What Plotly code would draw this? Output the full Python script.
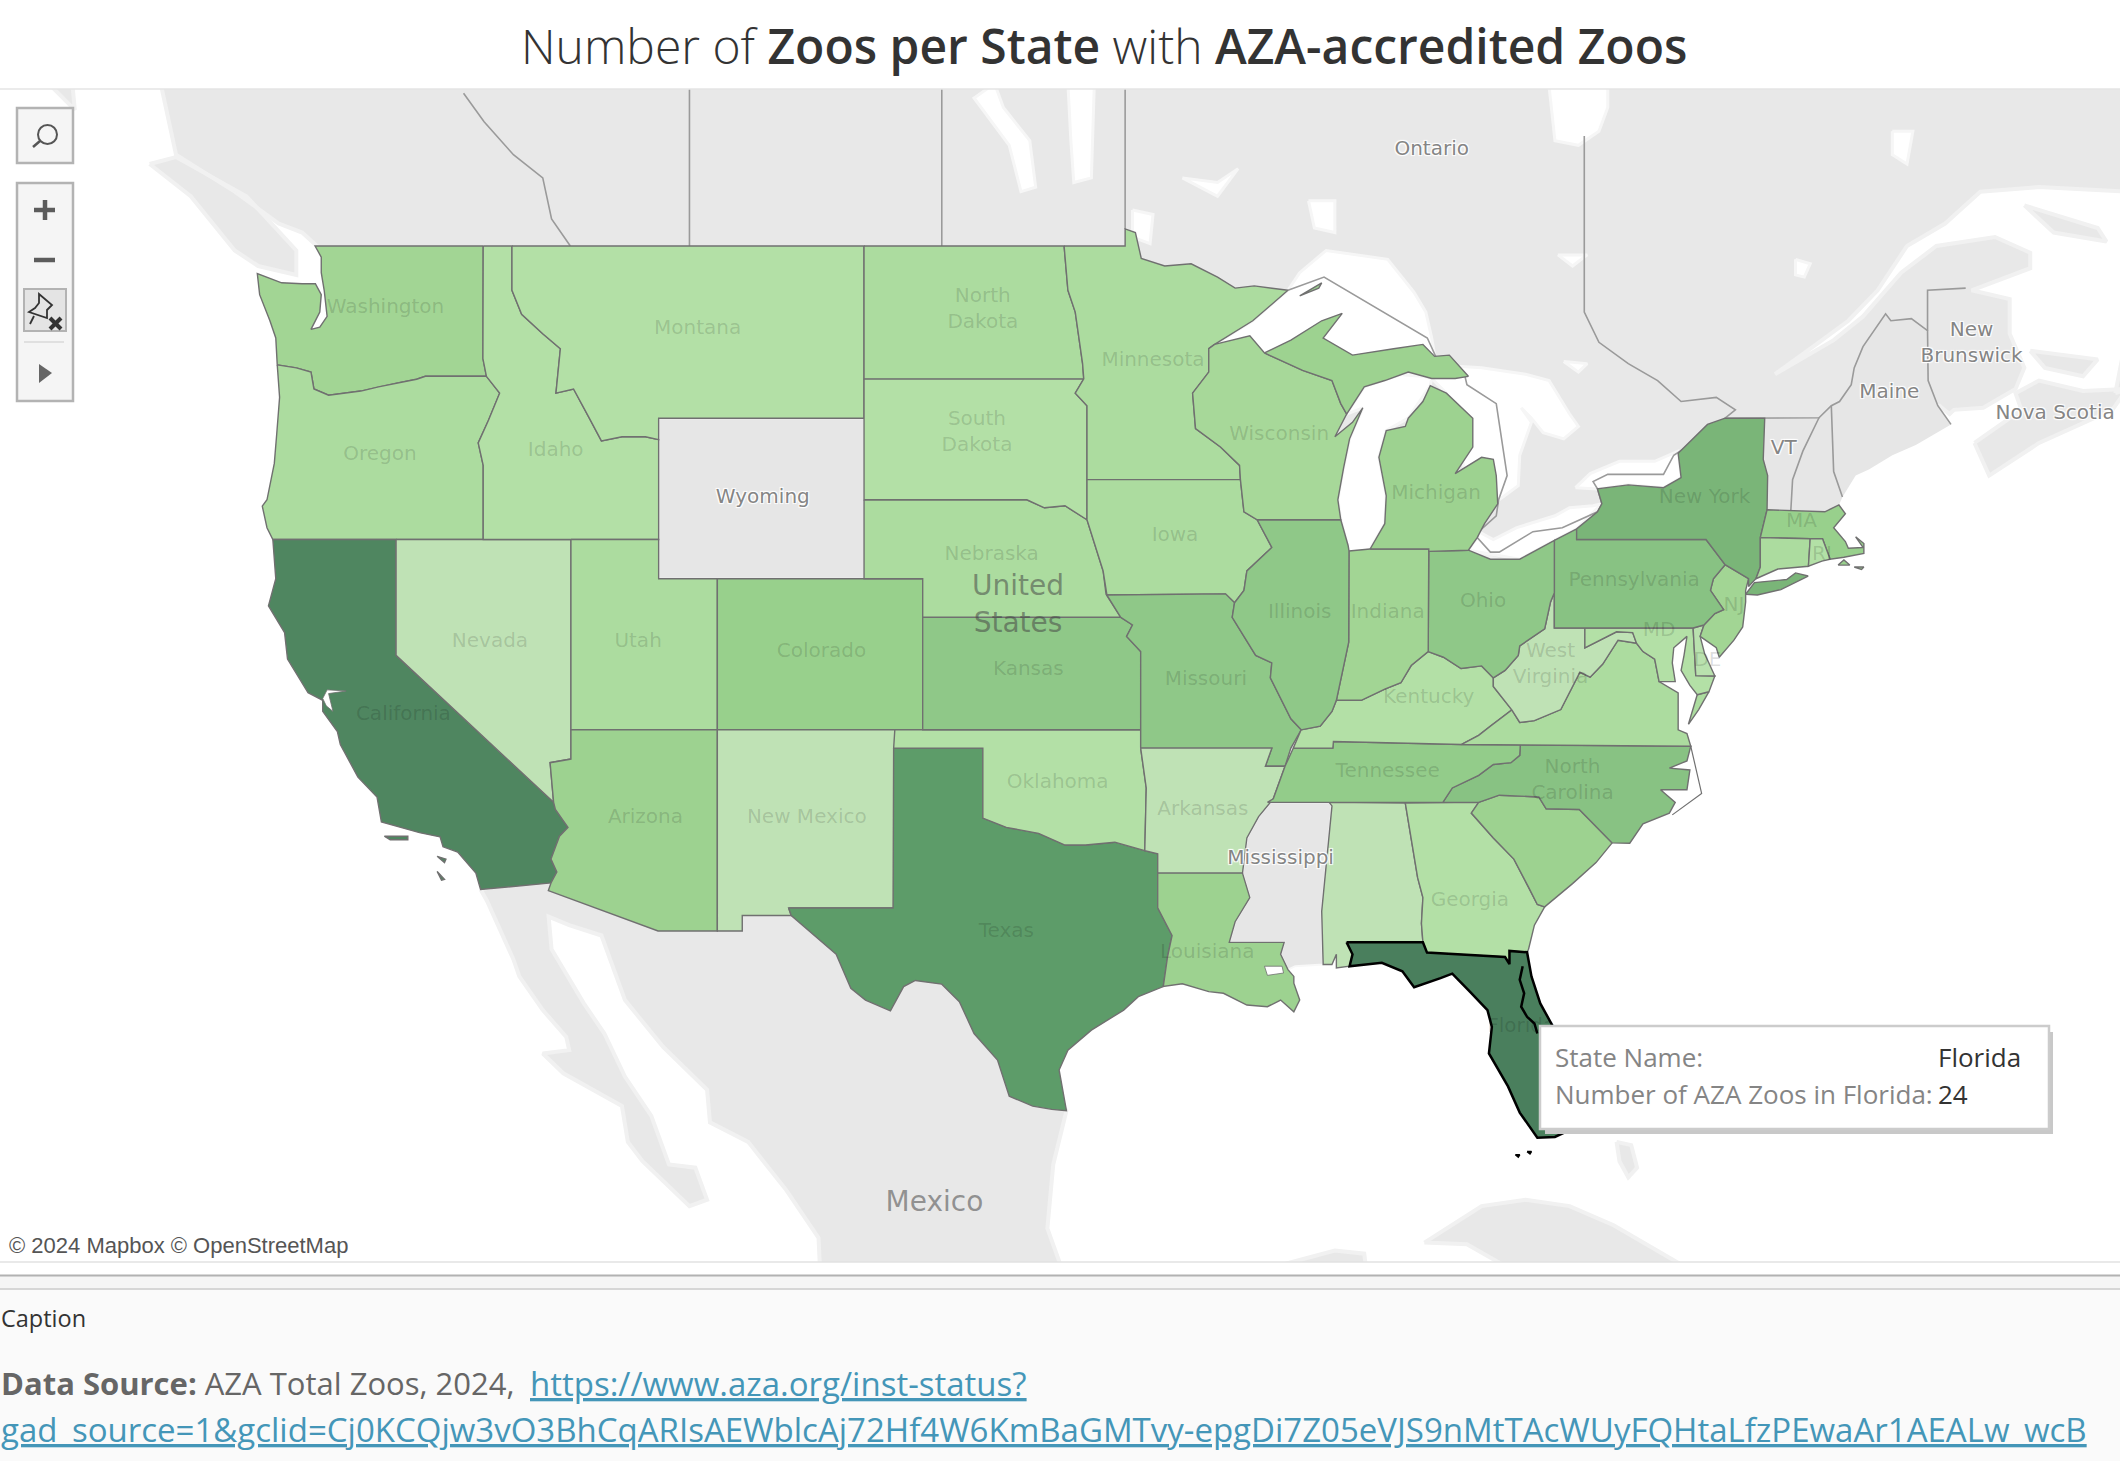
import numpy as np
import plotly.graph_objects as go
from plotly.colors import sample_colorscale

# number of AZA zoos per state (read from the shading); None = no data, grey
state_names = ['Washington', 'Oregon', 'California', 'Nevada', 'Idaho', 'Montana', 'Wyoming', 'Utah', 'Colorado',
               'Arizona', 'New Mexico', 'Texas', 'Oklahoma', 'Kansas', 'Nebraska', 'South Dakota', 'North Dakota',
               'Minnesota', 'Iowa', 'Missouri', 'Arkansas', 'Louisiana', 'Mississippi', 'Alabama', 'Georgia',
               'South Carolina', 'North Carolina', 'Tennessee', 'Kentucky', 'Virginia', 'West Virginia', 'Maryland',
               'Delaware', 'New Jersey', 'Pennsylvania', 'New York', 'Vermont', 'New Hampshire', 'Maine',
               'Massachusetts', 'Connecticut', 'Rhode Island', 'Ohio', 'Indiana', 'Illinois', 'Wisconsin', 'Michigan']
zoo_counts = [6, 4, 23, 1, 3, 3, None, 4, 8,
              7, 1, 20, 3, 10, 4, 3, 4,
              4, 4, 10, 1, 7, None, 1, 3,
              7, 11, 9, 3, 4, 1, 3,
              2, 6, 11, 13, None, None, None,
              8, 4, 3, 10, 6, 10, 5, 7]

colorscale = [[0, '#bfe2b5'], [0.087, '#b3e0a6'], [0.13, '#acdc9f'], [0.217, '#a2d594'], [0.304, '#98d08c'],
              [0.391, '#8fc888'], [0.522, '#7ab578'], [0.826, '#5d9c69'], [1, '#4a7f5d']]

# state outlines as (lon, lat)
WA = [(-117.03, 49), (-122.76, 49), (-122.55, 48.75), (-122.55, 48.4), (-122.45, 48), (-122.35, 47.4), (-122.6, 47.15),
      (-122.9, 47.1), (-122.6, 47.5), (-122.55, 47.9), (-122.75, 48.15), (-123.2, 48.15), (-123.9, 48.17),
      (-124.73, 48.38), (-124.65, 47.9), (-124.3, 47.3), (-124.1, 46.9), (-124.05, 46.27), (-123.4, 46.2),
      (-122.9, 46.1), (-122.8, 45.7), (-122.3, 45.55), (-121.2, 45.65), (-120.6, 45.75), (-119.9, 45.85),
      (-119.3, 45.93), (-119, 46), (-116.92, 46), (-117.04, 46.42)]
OR = [(-124.05, 46.27), (-123.4, 46.2), (-122.9, 46.1), (-122.8, 45.7), (-122.3, 45.55), (-121.2, 45.65),
      (-120.6, 45.75), (-119.9, 45.85), (-119.3, 45.93), (-119, 46), (-116.92, 46), (-116.47, 45.6), (-116.85, 44.95),
      (-117.2, 44.4), (-117.03, 43.85), (-117.03, 42), (-124.2, 42), (-124.4, 42.3), (-124.56, 42.84), (-124.4, 43),
      (-124.15, 43.9), (-124.07, 44.6), (-123.97, 45.5)]
CA = [(-124.2, 42), (-120, 42), (-120, 39), (-114.63, 35), (-114.57, 34.8), (-114.14, 34.3), (-114.43, 34.05),
      (-114.72, 33.4), (-114.52, 33.03), (-114.72, 32.72), (-117.12, 32.53), (-117.28, 33), (-117.9, 33.6),
      (-118.4, 33.75), (-118.5, 34.03), (-119.2, 34.15), (-120.5, 34.45), (-120.65, 35.15), (-121.3, 35.7),
      (-121.9, 36.6), (-122, 36.95), (-122.5, 37.5), (-122.5, 37.8), (-123, 38), (-123.7, 38.9), (-123.8, 39.6),
      (-124.35, 40.3), (-124.1, 41)]
CA_ISLANDS = [[(-120.4, 34.05), (-119.6, 34.05), (-119.6, 33.95), (-120.2, 33.95)],
              [(-118.6, 33.48), (-118.3, 33.4), (-118.35, 33.3)],
              [(-118.6, 33.05), (-118.35, 32.82), (-118.45, 32.8)]]
NV = [(-120, 42), (-114.04, 42), (-114.04, 36.2), (-114.75, 36.1), (-114.63, 35), (-120, 39)]
ID = [(-117.03, 49), (-116.05, 49), (-116.05, 48), (-115.72, 47.45), (-115, 47), (-114.4, 46.65), (-114.55, 45.6),
      (-113.95, 45.7), (-113.45, 45.05), (-113, 44.45), (-112.3, 44.55), (-111.5, 44.55), (-111.05, 44.48),
      (-111.05, 42), (-117.03, 42), (-117.03, 43.85), (-117.2, 44.4), (-116.85, 44.95), (-116.47, 45.6),
      (-116.92, 46), (-117.04, 46.42)]
MT = [(-116.05, 49), (-104.05, 49), (-104.05, 45), (-111.05, 45), (-111.05, 44.48), (-111.5, 44.55), (-112.3, 44.55),
      (-113, 44.45), (-113.45, 45.05), (-113.95, 45.7), (-114.55, 45.6), (-114.4, 46.65), (-115, 47),
      (-115.72, 47.45), (-116.05, 48)]
WY = [(-111.05, 45), (-104.05, 45), (-104.05, 41), (-111.05, 41)]
UT = [(-114.04, 42), (-111.05, 42), (-111.05, 41), (-109.05, 41), (-109.05, 37), (-114.04, 37)]
CO = [(-109.05, 41), (-102.05, 41), (-102.05, 37), (-109.05, 37)]
AZ = [(-114.04, 37), (-109.05, 37), (-109.05, 31.33), (-111.07, 31.33), (-114.81, 32.5), (-114.72, 32.72),
      (-114.52, 33.03), (-114.72, 33.4), (-114.43, 34.05), (-114.14, 34.3), (-114.57, 34.8), (-114.63, 35),
      (-114.75, 36.1), (-114.04, 36.2)]
NM = [(-109.05, 37), (-103, 37), (-103.04, 32), (-106.62, 32), (-106.53, 31.78), (-108.2, 31.78), (-108.2, 31.33),
      (-109.05, 31.33)]
TX = [(-106.62, 32), (-103.06, 32), (-103.04, 36.5), (-100, 36.5), (-100, 34.56), (-99.2, 34.3), (-98.1, 34.13),
      (-97.2, 33.8), (-96.5, 33.8), (-95.5, 33.88), (-94.48, 33.64), (-94.04, 33.55), (-94.04, 32), (-93.55, 31.2),
      (-93.7, 30.6), (-93.85, 29.7), (-94.7, 29.4), (-95.2, 29), (-96.3, 28.4), (-97.1, 27.8), (-97.4, 27.2),
      (-97.15, 25.96), (-97.65, 26), (-98.3, 26.1), (-99.1, 26.4), (-99.5, 27.5), (-100.3, 28.3), (-100.8, 29.25),
      (-101.4, 29.77), (-102.3, 29.88), (-102.7, 29.7), (-103.15, 28.98), (-104, 29.3), (-104.5, 29.65), (-105, 30.65),
      (-106, 31.4), (-106.53, 31.78)]
OK = [(-103, 37), (-94.62, 37), (-94.62, 36.5), (-94.43, 35.4), (-94.48, 33.64), (-95.5, 33.88), (-96.5, 33.8),
      (-97.2, 33.8), (-98.1, 34.13), (-99.2, 34.3), (-100, 34.56), (-100, 36.5), (-103.04, 36.5)]
KS = [(-102.05, 40), (-95.3, 40), (-94.9, 39.8), (-95.1, 39.5), (-94.62, 39.1), (-94.62, 37), (-102.05, 37)]
NE = [(-104.05, 43), (-98.5, 43), (-97.9, 42.8), (-97.2, 42.85), (-96.45, 42.5), (-96.1, 41.7), (-95.9, 41.2),
      (-95.8, 40.6), (-95.3, 40), (-102.05, 40), (-102.05, 41), (-104.05, 41)]
SD = [(-104.05, 45.94), (-96.56, 45.94), (-96.85, 45.6), (-96.45, 45.3), (-96.45, 42.5), (-97.2, 42.85), (-97.9, 42.8),
      (-98.5, 43), (-104.05, 43)]
ND = [(-104.05, 49), (-97.23, 49), (-97.1, 48), (-96.85, 47.5), (-96.6, 46.3), (-96.56, 45.94), (-104.05, 45.94)]
MN = [(-97.23, 49), (-95.15, 49), (-95.15, 49.38), (-94.8, 49.3), (-94.6, 48.72), (-93.8, 48.55), (-92.9, 48.6),
      (-92, 48.3), (-91.4, 48.05), (-90.75, 48.1), (-89.6, 48), (-90.8, 47.3), (-92.1, 46.75), (-92.3, 46.65),
      (-92.3, 46.1), (-92.85, 45.6), (-92.75, 44.75), (-91.9, 44.3), (-91.25, 43.85), (-91.22, 43.5), (-96.45, 43.5),
      (-96.45, 45.3), (-96.85, 45.6), (-96.56, 45.94), (-96.6, 46.3), (-96.85, 47.5), (-97.1, 48)]
IA = [(-96.45, 43.5), (-91.22, 43.5), (-91.1, 42.7), (-90.65, 42.5), (-90.15, 41.8), (-91, 41.2), (-91.1, 40.7),
      (-91.42, 40.38), (-91.73, 40.61), (-95.77, 40.58), (-95.9, 41.2), (-96.1, 41.7), (-96.45, 42.5)]
MO = [(-95.77, 40.58), (-91.73, 40.61), (-91.42, 40.38), (-91.5, 40), (-90.7, 39), (-90.15, 38.8), (-90.2, 38.4),
      (-89.5, 37.3), (-89.15, 37), (-89.5, 36.5), (-89.7, 36), (-90.37, 36), (-90.15, 36.5), (-94.62, 36.5),
      (-94.62, 37), (-94.62, 39.1), (-95.1, 39.5), (-94.9, 39.8), (-95.3, 40)]
AR = [(-94.62, 36.5), (-90.15, 36.5), (-90.37, 36), (-89.7, 36), (-90.1, 35.1), (-90.6, 34.6), (-91, 34),
      (-91.15, 33), (-94.04, 33), (-94.04, 33.55), (-94.48, 33.64), (-94.43, 35.4)]
LA = [(-94.04, 33), (-91.15, 33), (-90.9, 32.3), (-91.4, 31.6), (-91.6, 31), (-89.73, 31), (-89.85, 30.65),
      (-89.6, 30.2), (-89.4, 30), (-89.4, 29.8), (-89.2, 29.3), (-89.4, 28.95), (-89.85, 29.3), (-90.3, 29.1),
      (-91, 29.15), (-91.8, 29.5), (-92.3, 29.55), (-93.2, 29.78), (-93.85, 29.7), (-93.7, 30.6), (-93.55, 31.2),
      (-94.04, 32)]
MS = [(-90.3, 35), (-88.2, 35), (-88.1, 34.9), (-88.45, 31.9), (-88.4, 30.35), (-89.35, 30.3), (-89.6, 30.2),
      (-89.85, 30.65), (-89.73, 31), (-91.6, 31), (-91.4, 31.6), (-90.9, 32.3), (-91.15, 33), (-91, 34), (-90.6, 34.6),
      (-90.1, 35.1)]
AL = [(-88.2, 35), (-85.6, 34.98), (-85.18, 32.87), (-85, 32.3), (-85.05, 31.55), (-85, 31), (-87.6, 31),
      (-87.4, 30.65), (-87.5, 30.3), (-87.95, 30.25), (-87.95, 30.65), (-88.1, 30.35), (-88.4, 30.35), (-88.45, 31.9),
      (-88.1, 34.9)]
GA = [(-85.6, 34.98), (-83.1, 35), (-83.35, 34.7), (-82.6, 34), (-81.9, 33.4), (-81.4, 32.6), (-81.1, 32.1),
      (-80.85, 32.03), (-81.2, 31.5), (-81.4, 30.8), (-81.45, 30.71), (-82.05, 30.75), (-82.05, 30.36), (-82.2, 30.57),
      (-84.86, 30.7), (-85, 31), (-85.05, 31.55), (-85, 32.3), (-85.18, 32.87)]
FL = [(-87.6, 31), (-85, 31), (-84.86, 30.7), (-82.2, 30.57), (-82.05, 30.36), (-82.05, 30.75), (-81.45, 30.71),
      (-81.3, 30), (-81, 29.2), (-80.5, 28.4), (-80.05, 26.9), (-80.1, 25.8), (-80.15, 25.3), (-80.5, 25.15), (-81.1, 25.13),
      (-81.7, 25.9), (-82.1, 26.7), (-82.75, 27.7), (-82.65, 28.5), (-82.8, 29), (-83.4, 29.55), (-84, 30.08),
      (-84.4, 29.95), (-85.3, 29.68), (-85.7, 30.15), (-86.4, 30.4), (-87.5, 30.3), (-87.4, 30.65)]
FL_KEYS = [[(-81.85, 24.6), (-81.7, 24.6), (-81.75, 24.53)], [(-81.45, 24.7), (-81.3, 24.7), (-81.35, 24.63)]]
FL_RIVER = [(-81.6, 30.3), (-81.7, 29.9), (-81.55, 29.5), (-81.65, 29.1), (-81.45, 28.8), (-81.2, 28.6), (-81.1, 28.3)]
SC = [(-83.1, 35), (-82.4, 35.2), (-81.05, 35.15), (-80.8, 34.82), (-79.67, 34.8), (-78.55, 33.86), (-79.1, 33.3),
      (-79.9, 32.7), (-80.85, 32.03), (-81.1, 32.1), (-81.4, 32.6), (-81.9, 33.4), (-82.6, 34), (-83.35, 34.7)]
NC = [(-84.32, 35), (-83.1, 35), (-82.4, 35.2), (-81.05, 35.15), (-80.8, 34.82), (-79.67, 34.8), (-78.55, 33.86),
      (-77.95, 33.85), (-77.5, 34.4), (-76.6, 34.7), (-76.4, 35), (-76.9, 35.35), (-76, 35.35), (-75.9, 35.9),
      (-76.6, 35.95), (-76, 36.15), (-75.87, 36.55), (-81.68, 36.59), (-81.7, 36.3), (-82, 36.1), (-82.6, 36.05),
      (-83.1, 35.75), (-84, 35.4)]
OUTER_BANKS = [(-75.87, 36.55), (-75.5, 35.25), (-76.5, 34.65)]
TN = [(-90.3, 35), (-84.32, 35), (-84, 35.4), (-83.1, 35.75), (-82.6, 36.05), (-82, 36.1), (-81.7, 36.3),
      (-81.68, 36.59), (-83.68, 36.6), (-86.5, 36.65), (-88.05, 36.68), (-88.07, 36.5), (-89.42, 36.5), (-89.7, 36),
      (-90.1, 35.1)]
KY = [(-89.42, 36.5), (-88.07, 36.5), (-88.05, 36.68), (-86.5, 36.65), (-83.68, 36.6), (-83.1, 36.85), (-82.7, 37.1),
      (-81.97, 37.54), (-82.6, 38.17), (-82.6, 38.4), (-83, 38.72), (-83.7, 38.65), (-84.3, 38.95), (-84.82, 39.1),
      (-85.4, 38.73), (-85.75, 38.27), (-86.3, 38.1), (-87.1, 37.8), (-87.95, 37.8), (-88.1, 37.5), (-88.5, 37.1),
      (-89.15, 37)]
VA = [(-83.68, 36.6), (-81.68, 36.59), (-75.87, 36.55), (-76, 36.9), (-76.3, 37), (-76.3, 37.6), (-76.3, 38),
      (-76.95, 38.3), (-77.05, 38.7), (-77.1, 38.9), (-77.5, 39.1), (-77.72, 39.32), (-78.35, 39.4), (-78.87, 38.77),
      (-79.3, 38.42), (-79.65, 38.55), (-80.3, 37.55), (-81.2, 37.25), (-81.7, 37.2), (-81.97, 37.54), (-82.7, 37.1),
      (-83.1, 36.85)]
VA_SHORE = [(-75.95, 37.15), (-75.65, 37.95), (-75.25, 38.03), (-75.6, 37.55)]
WV = [(-81.97, 37.54), (-82.6, 38.17), (-82.6, 38.4), (-82.2, 38.6), (-81.75, 39), (-81.7, 39.25), (-80.85, 39.7),
      (-80.65, 40.4), (-80.52, 40.64), (-80.52, 39.72), (-79.48, 39.72), (-79.48, 39.2), (-78.4, 39.62), (-77.85, 39.6),
      (-77.72, 39.32), (-78.35, 39.4), (-78.87, 38.77), (-79.3, 38.42), (-79.65, 38.55), (-80.3, 37.55), (-81.2, 37.25),
      (-81.7, 37.2)]
MD = [(-79.48, 39.72), (-75.79, 39.72), (-75.7, 38.46), (-75.05, 38.45), (-75.25, 38.03), (-75.65, 37.95), (-75.9, 38.2),
      (-76.2, 38.6), (-76.1, 39), (-76, 39.5), (-76.45, 39.2), (-76.5, 38.8), (-76.4, 38.3), (-76.95, 38.3),
      (-77.05, 38.7), (-77.1, 38.9), (-77.5, 39.1), (-77.72, 39.32), (-77.85, 39.6), (-78.4, 39.62), (-79.48, 39.2)]
DE = [(-75.79, 39.72), (-75.42, 39.8), (-75.55, 39.5), (-75.4, 39.05), (-75.05, 38.45), (-75.7, 38.46)]
NJ = [(-74.7, 41.36), (-73.9, 41), (-74, 40.7), (-74, 40.4), (-74.1, 39.75), (-74.4, 39.4), (-74.9, 38.95), (-75, 39.2),
      (-75.55, 39.5), (-75.42, 39.8), (-75.05, 40.1), (-74.75, 40.2), (-75.2, 40.7), (-75.1, 41)]
PA = [(-80.52, 41.98), (-79.76, 42.27), (-79.76, 42), (-75.35, 42), (-74.7, 41.36), (-75.1, 41), (-75.2, 40.7),
      (-74.75, 40.2), (-75.05, 40.1), (-75.42, 39.8), (-75.79, 39.72), (-80.52, 39.72), (-80.52, 40.64)]
NY = [(-79.76, 42.27), (-79.05, 42.7), (-78.9, 42.9), (-79.05, 43.27), (-78, 43.37), (-76.8, 43.3), (-76.2, 43.55),
      (-76.3, 44.15), (-75.3, 44.85), (-74.7, 45), (-73.35, 45), (-73.4, 44), (-73.25, 43.6), (-73.27, 42.75),
      (-73.5, 42.05), (-73.5, 41.3), (-73.65, 41), (-73.9, 40.8), (-73.9, 41), (-74.7, 41.36), (-75.35, 42),
      (-79.76, 42)]
LONG_ISLAND = [(-74, 40.6), (-73.7, 40.9), (-72.6, 40.98), (-72.3, 41.15), (-71.87, 41.07), (-72.8, 40.72), (-73.6, 40.58)]
VT = [(-73.35, 45), (-71.5, 45.01), (-72.05, 44.2), (-72.4, 43.5), (-72.46, 42.73), (-73.27, 42.75), (-73.25, 43.6),
      (-73.4, 44)]
NH = [(-71.5, 45.01), (-71.08, 45.3), (-71, 43.7), (-70.7, 43.07), (-70.82, 42.87), (-71.3, 42.7), (-72.46, 42.73),
      (-72.4, 43.5), (-72.05, 44.2)]
ME = [(-71.08, 45.3), (-70.8, 45.4), (-70.4, 45.8), (-70.3, 46.2), (-70, 46.7), (-69.23, 47.46), (-69.05, 47.3),
      (-68.35, 47.35), (-67.8, 47.07), (-67.78, 45.9), (-67.45, 45.3), (-67, 44.85), (-68.2, 44.35), (-69, 44.1),
      (-69.8, 43.75), (-70.25, 43.6), (-70.7, 43.07), (-71, 43.7)]
MA = [(-73.5, 42.05), (-73.27, 42.75), (-71.3, 42.7), (-70.82, 42.87), (-70.6, 42.65), (-71, 42.3), (-70.6, 41.95),
      (-70.5, 41.78), (-70, 41.8), (-70.25, 42.07), (-69.97, 41.9), (-69.97, 41.65), (-70.65, 41.55), (-71.12, 41.5),
      (-71.38, 42.02), (-71.8, 42.02)]
MA_ISLANDS = [[(-70.85, 41.35), (-70.45, 41.35), (-70.65, 41.48)], [(-70.3, 41.3), (-69.97, 41.3), (-70.05, 41.24)]]
CT = [(-73.5, 42.05), (-71.8, 42.02), (-71.86, 41.32), (-72.9, 41.25), (-73.65, 41), (-73.5, 41.3)]
RI = [(-71.8, 42.02), (-71.38, 42.02), (-71.12, 41.5), (-71.4, 41.45), (-71.86, 41.32)]
OH = [(-84.8, 41.7), (-83.45, 41.73), (-82.7, 41.5), (-81.7, 41.5), (-80.52, 41.98), (-80.52, 40.64), (-80.65, 40.4),
      (-80.85, 39.7), (-81.7, 39.25), (-81.75, 39), (-82.2, 38.6), (-82.6, 38.4), (-83, 38.72), (-83.7, 38.65),
      (-84.3, 38.95), (-84.82, 39.1)]
IN = [(-87.52, 41.71), (-86.8, 41.76), (-84.8, 41.76), (-84.82, 39.1), (-85.4, 38.73), (-85.75, 38.27), (-86.3, 38.1),
      (-87.1, 37.8), (-87.95, 37.8), (-87.53, 39.35)]
IL = [(-90.65, 42.5), (-87.8, 42.5), (-87.55, 41.85), (-87.52, 41.71), (-87.53, 39.35), (-87.95, 37.8), (-88.1, 37.5),
      (-88.5, 37.1), (-89.15, 37), (-89.5, 37.3), (-90.2, 38.4), (-90.15, 38.8), (-90.7, 39), (-91.5, 40),
      (-91.42, 40.38), (-91.1, 40.7), (-91, 41.2), (-90.15, 41.8)]
WI = [(-92.1, 46.75), (-90.9, 46.95), (-90.4, 46.55), (-89.1, 46.14), (-88.1, 45.9), (-87.8, 45.35), (-87.6, 45.1),
      (-88, 44.55), (-87.4, 44.9), (-87.05, 45.25), (-87.5, 44.5), (-87.7, 43.8), (-87.9, 43), (-87.8, 42.5),
      (-90.65, 42.5), (-91.1, 42.7), (-91.22, 43.5), (-91.25, 43.85), (-91.9, 44.3), (-92.75, 44.75), (-92.85, 45.6),
      (-92.3, 46.1), (-92.3, 46.65)]
MI_LOWER = [(-86.8, 41.76), (-84.8, 41.76), (-84.8, 41.7), (-83.45, 41.73), (-83.15, 42.05), (-82.9, 42.4),
            (-82.45, 42.9), (-82.5, 43.6), (-82.6, 44), (-83, 44.05), (-83.9, 43.65), (-83.3, 44.3), (-83.3, 45),
            (-84.2, 45.6), (-84.75, 45.78), (-85, 45.4), (-85.5, 45), (-85.6, 44.8), (-86.25, 44.7), (-86.5, 44.05),
            (-86.25, 43.1), (-86.3, 42.4)]
MI_UPPER = [(-90.4, 46.55), (-89.5, 46.85), (-88.45, 47.3), (-87.75, 47.47), (-88.4, 46.9), (-87.4, 46.5), (-86, 46.65),
            (-85, 46.75), (-84.6, 46.47), (-84.1, 46.5), (-83.45, 46), (-83.9, 45.95), (-84.7, 45.95), (-85.5, 46.1),
            (-86.3, 45.9), (-87, 45.75), (-87.6, 45.1), (-87.8, 45.35), (-88.1, 45.9), (-89.1, 46.14)]
ISLE_ROYALE = [(-89.2, 47.87), (-88.45, 48.17), (-88.55, 48.05)]

state_parts = [[WA], [OR], [CA] + CA_ISLANDS, [NV], [ID], [MT], [WY], [UT], [CO],
               [AZ], [NM], [TX], [OK], [KS], [NE], [SD], [ND],
               [MN], [IA], [MO], [AR], [LA], [MS], [AL], [GA],
               [SC], [NC], [TN], [KY], [VA, VA_SHORE], [WV], [MD],
               [DE], [NJ], [PA], [NY, LONG_ISLAND], [VT], [NH], [ME],
               [MA] + MA_ISLANDS, [CT], [RI], [OH], [IN], [IL], [WI], [MI_LOWER, MI_UPPER, ISLE_ROYALE]]

# basemap land and water
CANADA = [(-128.2, 53), (-127.5, 51), (-125.5, 50.2), (-124, 49.5), (-123.2, 49.3), (-122.7, 49), (-118, 46), (-100, 44),
          (-85, 42), (-80, 41), (-75, 42.5), (-71.5, 43.8), (-69, 45), (-67.4, 45.3), (-67.05, 45.1), (-66.9, 45.2),
          (-65.9, 45.25), (-64.8, 45.7), (-64.5, 46.2), (-65, 47), (-65, 47.8), (-66.3, 48), (-64.3, 48.5), (-64.3, 48.85),
          (-65.5, 49.2), (-67.5, 49), (-68.7, 48.4), (-70, 47.4), (-71, 46.85), (-73, 46.05), (-71.5, 46.8), (-70.5, 47.3),
          (-69.5, 48), (-68.5, 49), (-67.2, 49.5), (-66, 50.2), (-64, 50.3), (-61, 50.2), (-58, 50.5), (-58, 53)]
VANCOUVER_ISLAND = [(-128.4, 50.8), (-127, 50.1), (-125.5, 48.9), (-124.7, 48.55), (-123.4, 48.35), (-123.4, 48.9),
                    (-125.1, 50.1), (-127.5, 50.95)]
HAIDA_GWAII = [(-132, 52.6), (-131.05, 52.6), (-130.95, 51.95)]
NOVA_SCOTIA = [(-66.2, 44.4), (-65.7, 43.6), (-64, 44.4), (-61.5, 45.2), (-61, 45.7), (-62.5, 45.65), (-64, 45.9),
               (-64.8, 45.6), (-64.6, 45.2)]
CAPE_BRETON = [(-61.4, 45.6), (-60, 45.9), (-60.4, 46.9), (-61, 47)]
PEI = [(-64.3, 46.6), (-62, 46.4), (-62.5, 46), (-63.8, 46.2)]
ANTICOSTI = [(-64.5, 49.9), (-62, 49.4), (-61.7, 49.1), (-63.5, 49.3)]
MEXICO = [(-117.12, 32.53), (-116.9, 32.2), (-116, 30.5), (-115.8, 30), (-115, 29), (-114.2, 28.2), (-114.1, 27.8),
          (-115, 27.7), (-114.3, 27.1), (-113.5, 26.7), (-112.3, 26.1), (-112.1, 25), (-111.6, 24.4), (-110, 23),
          (-109.4, 23.2), (-109.8, 24.2), (-110.7, 24.3), (-111.3, 25.8), (-112.2, 27), (-112.9, 28.3), (-113.6, 29.2),
          (-114.7, 30.8), (-114.8, 31.75), (-114.1, 31.5), (-113, 31.2), (-112.2, 29.3), (-110.9, 27.9), (-109.4, 26.6),
          (-109.3, 25.6), (-108, 25), (-106.7, 23.5), (-105.6, 22), (-105.5, 20), (-97, 20), (-97.3, 21), (-97.8, 22.3),
          (-97.6, 24.3), (-97.15, 25.96), (-98, 27), (-100, 30), (-104, 31.5), (-106.5, 32.3), (-108.2, 32.3),
          (-111.07, 32.3), (-114.5, 33)]
YUCATAN = [(-90.4, 21), (-88, 21.6), (-87, 21.5), (-86.8, 20), (-90.4, 20)]
CUBA = [(-84.95, 21.85), (-84, 22.4), (-83, 23), (-81.5, 23.2), (-80, 23), (-78.5, 22.4), (-77, 21.6), (-75, 20.5),
        (-80, 20.5), (-82, 21), (-83.5, 21.8)]
ANDROS = [(-78.4, 25), (-77.9, 24.9), (-77.7, 24.2), (-78, 23.9), (-78.3, 24.4)]
GRAND_BAHAMA = [(-79, 26.7), (-78, 26.75), (-77.2, 26.6), (-78.2, 26.5)]
ABACO = [(-77.5, 26.9), (-77, 26.5), (-77.2, 25.9), (-77.35, 26.4)]
land_parts = [CANADA, VANCOUVER_ISLAND, HAIDA_GWAII, NOVA_SCOTIA, CAPE_BRETON, PEI, ANTICOSTI, MEXICO, YUCATAN, CUBA,
              ANDROS, GRAND_BAHAMA, ABACO]

SUPERIOR = [(-92.1, 46.75), (-90.8, 47.3), (-89.6, 48), (-89.2, 48.4), (-88.3, 48.9), (-87.3, 48.8), (-86.2, 48.7),
            (-85.3, 47.95), (-84.9, 47.5), (-84.7, 46.9), (-84.6, 46.5), (-85, 46), (-90.4, 46.3)]
HURON = [(-84.7, 45.95), (-84.1, 46.25), (-83, 46.2), (-81.5, 46.05), (-80.7, 45.9), (-80, 45.1), (-79.7, 44.8),
         (-80.2, 44.5), (-80.9, 44.65), (-81.3, 45), (-81.65, 45.25), (-81.3, 44.9), (-81.7, 44.1), (-81.75, 43.35),
         (-82.4, 43), (-83.5, 43.5), (-84.2, 45.6)]
MICHIGAN = [(-87.8, 42.5), (-87.9, 43), (-87.7, 43.8), (-87.5, 44.5), (-87.05, 45.25), (-87.6, 45.1), (-87, 45.75),
            (-85.5, 46.1), (-84.7, 45.95), (-84.75, 45.78), (-85.5, 45), (-86.25, 44.7), (-86.5, 44.05), (-86.25, 43.1),
            (-86.3, 42.4), (-86.8, 41.76), (-87.3, 41.62), (-87.52, 41.71)]
ERIE = [(-83.15, 42.05), (-83.1, 42.2), (-82.6, 42), (-81.8, 42.3), (-80.5, 42.6), (-80, 42.8), (-79.2, 42.85),
        (-78.9, 42.9), (-79.76, 42.27), (-80.52, 41.98), (-81.7, 41.5), (-83.45, 41.73)]
ONTARIO = [(-79.8, 43.3), (-79.3, 43.65), (-78.3, 43.95), (-77.1, 43.95), (-76.3, 44.2), (-76.2, 43.55), (-76.8, 43.3),
           (-78, 43.37), (-79.05, 43.27)]
JAMES_BAY = [(-80.8, 53), (-80.5, 51.3), (-79.7, 51.2), (-79, 51.5), (-78.7, 52), (-78.7, 53)]
WINNIPEG = [(-97.1, 52.5), (-96.2, 52.5), (-96.3, 50.5), (-96.9, 50.4), (-97, 51.3)]
MANITOBA = [(-99.6, 52.5), (-99.3, 52), (-98.4, 51.3), (-98.2, 50.3), (-98.7, 50.2), (-99.1, 51.2), (-100.3, 52.2)]
NIPIGON = [(-88.9, 50), (-88, 50), (-88, 49.3), (-88.7, 49.4)]
LAC_SEUL = [(-93.2, 50.5), (-92, 50.4), (-91.3, 50.7), (-92, 50.1)]
WOODS = [(-94.9, 49.8), (-94.2, 49.7), (-94.3, 49.05), (-94.9, 49.2)]
NIPISSING = [(-80.2, 46.35), (-79.4, 46.3), (-79.7, 46.1)]
ST_JEAN = [(-72.3, 48.7), (-71.8, 48.6), (-72, 48.3), (-72.3, 48.35)]
MANICOUAGAN = [(-69, 51.5), (-68.3, 51.5), (-68.5, 50.8), (-69, 51)]
ABITIBI = [(-80.4, 48.8), (-79.4, 48.8), (-79.9, 48.55)]
water_parts = [SUPERIOR, HURON, MICHIGAN, ERIE, ONTARIO, JAMES_BAY, WINNIPEG, MANITOBA, NIPIGON, LAC_SEUL, WOODS,
               NIPISSING, ST_JEAN, MANICOUAGAN, ABITIBI]
# water cut back into the state fill
PONTCHARTRAIN = [(-90.4, 30.3), (-89.8, 30.3), (-89.75, 30.1), (-90.3, 30.03)]
SAN_FRANCISCO_BAY = [(-122.5, 37.85), (-122.35, 38.08), (-121.7, 38.05), (-122.3, 37.98), (-122.15, 37.5), (-122.38, 37.65)]
inland_parts = [PONTCHARTRAIN, SAN_FRANCISCO_BAY]

# grey basemap boundaries
lake_border = [(-89.6, 48), (-88.37, 48.3), (-84.85, 46.9), (-84.55, 46.45), (-84.1, 46.2), (-83.6, 46.1), (-83.5, 45.8),
               (-82.5, 45.35), (-82.13, 43.6), (-82.42, 43), (-82.5, 42.6), (-83.1, 42.2), (-83.15, 42.05), (-82.7, 41.68),
               (-82.4, 41.68), (-81.25, 42.2), (-80.25, 42.3), (-79.05, 42.7), (-78.9, 42.9), (-79.05, 43.27),
               (-79.2, 43.45), (-78.7, 43.63), (-76.8, 43.63), (-76.45, 44.1), (-75.8, 44.4), (-74.7, 45)]
bc_alberta = [(-114.06, 49), (-114.7, 49.6), (-115, 50.5), (-116, 51), (-117, 51.7), (-117.7, 52.3)]
alberta_sask = [(-110, 49), (-110, 53)]
sask_manitoba = [(-101.4, 49), (-101.4, 53)]
manitoba_ontario = [(-95.15, 49.38), (-95.15, 53)]
ontario_quebec = [(-79.5, 51.4), (-79.5, 47.5), (-79, 46.8), (-78, 46.3), (-77, 45.9), (-76.2, 45.4), (-75, 45.5),
                  (-74.35, 45.2), (-74.7, 45)]
quebec_nb = [(-67.8, 47.07), (-67.8, 48), (-66.5, 48.05)]
quebec_vt = [(-74.7, 45), (-71.5, 45.01), (-71.08, 45.3), (-70.8, 45.4), (-70.4, 45.8), (-70.3, 46.2), (-70, 46.7),
             (-69.23, 47.46), (-69.05, 47.3), (-68.35, 47.35), (-67.8, 47.07), (-67.78, 45.9), (-67.45, 45.3), (-67, 44.85)]
vt_nh = [(-71.5, 45.01), (-72.05, 44.2), (-72.4, 43.5), (-72.46, 42.73)]
nh_me = [(-71.08, 45.3), (-71, 43.7), (-70.7, 43.07)]
border_lines = [lake_border, bc_alberta, alberta_sask, sask_manitoba, manitoba_ontario, ontario_quebec, quebec_nb,
                quebec_vt, vt_nh, nh_me]

# map labels: text, lon, lat
state_labels = [('Washington', -120.36, 47.6), ('Montana', -109.72, 47.1), ('North<br>Dakota', -100, 47.55),
                ('Minnesota', -94.2, 46.35), ('Oregon', -120.55, 44.1), ('Idaho', -114.56, 44.2),
                ('South<br>Dakota', -100.2, 44.65), ('Wisconsin', -89.9, 44.6), ('Michigan', -84.55, 43.15),
                ('New York', -75.4, 43.05), ('Pennsylvania', -77.8, 40.95), ('Nebraska', -99.7, 41.6), ('Iowa', -93.45, 42.1),
                ('Illinois', -89.2, 40.1), ('Indiana', -86.2, 40.1), ('Ohio', -82.95, 40.4), ('Nevada', -116.8, 39.35),
                ('Utah', -111.75, 39.35), ('Colorado', -105.5, 39.1), ('Kansas', -98.45, 38.6), ('Missouri', -92.4, 38.35),
                ('West<br>Virginia', -80.65, 38.75), ('Kentucky', -84.8, 37.85), ('California', -119.75, 37.4),
                ('Tennessee', -86.2, 35.85), ('Oklahoma', -97.45, 35.55), ('North<br>Carolina', -79.9, 35.6),
                ('Arkansas', -92.5, 34.8), ('New Mexico', -106, 34.55), ('Arizona', -111.5, 34.55), ('Georgia', -83.4, 32.2),
                ('Texas', -99.2, 31.3), ('Louisiana', -92.35, 30.7), ('Florida', -81.65, 28.5), ('MA', -72.1, 42.45),
                ('NJ', -74.4, 40.3), ('MD', -76.95, 39.65), ('DE', -75.3, 38.85), ('RI', -71.4, 41.6)]
grey_labels = [('Wyoming', -107.5, 43.05), ('Mississippi', -89.85, 33.4), ('VT', -72.7, 44.25), ('Maine', -69.1, 45.6),
               ('New<br>Brunswick', -66.3, 46.75), ('Nova Scotia', -63.45, 45.1), ('Ontario', -84.7, 51.1)]
country_labels = [('United', -98.8, 40.77), ('States', -98.8, 39.8), ('Mexico', -101.65, 23.05)]

FONT = 'Open Sans'
W, H = 2120, 1461
HALO = '1px 1px 1px #fff, -1px -1px 1px #fff, 1px -1px 1px #fff, -1px 1px 1px #fff'


def merc(lat):
    return np.log(np.tan(np.pi / 4 + np.radians(lat) / 2))


def xy(parts):
    xs, ys = [], []
    for part in parts:
        part = part + part[:1]
        xs += [p[0] for p in part] + [None]
        ys += [float(merc(p[1])) for p in part] + [None]
    return xs, ys


def open_xy(lines):
    xs, ys = [], []
    for line in lines:
        xs += [p[0] for p in line] + [None]
        ys += [float(merc(p[1])) for p in line] + [None]
    return xs, ys


def fx(px):
    return px / W


def fy(py):
    return 1 - py / H


def rect(x0, y0, x1, y1, fill, line=None, width=0):
    return dict(type='rect', xref='paper', yref='paper', x0=fx(x0), y0=fy(y0), x1=fx(x1), y1=fy(y1),
                fillcolor=fill, line=dict(color=line or fill, width=width), layer='above')


def seg(x0, y0, x1, y1, color, width):
    return dict(type='line', xref='paper', yref='paper', x0=fx(x0), y0=fy(y0), x1=fx(x1), y1=fy(y1),
                line=dict(color=color, width=width), layer='above')


def poly(points, fill, line=None, width=0):
    path = 'M ' + ' L '.join(f'{fx(a):.5f},{fy(b):.5f}' for a, b in points) + ' Z'
    return dict(type='path', xref='paper', yref='paper', path=path, fillcolor=fill,
                line=dict(color=line or fill, width=width), layer='above')


fig = go.Figure()

xs, ys = xy(land_parts)
fig.add_trace(go.Scatter(x=xs, y=ys, mode='lines', fill='toself', fillcolor='#e8e8e8',
                         line=dict(color='#f1f1f1', width=4), hoverinfo='skip'))
xs, ys = xy(water_parts)
fig.add_trace(go.Scatter(x=xs, y=ys, mode='lines', fill='toself', fillcolor='white',
                         line=dict(color='#f6f6f6', width=3), hoverinfo='skip'))

# states without data first so the shaded neighbours draw their borders on top
order = sorted(range(len(state_names)), key=lambda i: (zoo_counts[i] is not None, state_names[i] == 'Florida'))
for i in order:
    if zoo_counts[i] is None:
        xs, ys = xy(state_parts[i])
        edge = '#f8f8f8' if state_names[i] in ('Wyoming', 'Mississippi') else 'rgba(0,0,0,0)'
        fig.add_trace(go.Scatter(x=xs, y=ys, mode='lines', fill='toself', fillcolor='#e6e6e6',
                                 line=dict(color=edge, width=2), name=state_names[i], hoverinfo='name'))

xs, ys = open_xy(border_lines)
fig.add_trace(go.Scatter(x=xs, y=ys, mode='lines', line=dict(color='#9a9a9a', width=1.6), hoverinfo='skip'))

for i in order:
    if zoo_counts[i] is not None:
        xs, ys = xy(state_parts[i])
        color = sample_colorscale(colorscale, (zoo_counts[i] - 1) / 23)[0]
        fig.add_trace(go.Scatter(x=xs, y=ys, mode='lines', fill='toself', fillcolor=color,
                                 line=dict(color='#707070', width=1.4), name=state_names[i],
                                 text=f'{state_names[i]}: {zoo_counts[i]}', hoverinfo='text'))

# selected state
xs, ys = xy([FL])
fig.add_trace(go.Scatter(x=xs, y=ys, mode='lines', fill='toself', fillcolor='#4a7f5d',
                         line=dict(color='black', width=2.5), name='Florida', text='Florida: 24', hoverinfo='text'))
xs, ys = xy(FL_KEYS)
fig.add_trace(go.Scatter(x=xs, y=ys, mode='lines', fill='toself', fillcolor='black',
                         line=dict(color='black', width=1.5), hoverinfo='skip'))
xs, ys = open_xy([FL_RIVER])
fig.add_trace(go.Scatter(x=xs, y=ys, mode='lines', line=dict(color='black', width=2.5), hoverinfo='skip'))

xs, ys = xy(inland_parts)
fig.add_trace(go.Scatter(x=xs, y=ys, mode='lines', fill='toself', fillcolor='white',
                         line=dict(color='#707070', width=0.8), hoverinfo='skip'))
xs, ys = open_xy([OUTER_BANKS])
fig.add_trace(go.Scatter(x=xs, y=ys, mode='lines', line=dict(color='#707070', width=1.2), hoverinfo='skip'))

fig.add_trace(go.Scatter(x=[l[1] for l in state_labels], y=[float(merc(l[2])) for l in state_labels],
                         text=[l[0] for l in state_labels], mode='text', hoverinfo='skip',
                         textfont=dict(family='DejaVu Sans', size=20, color='rgba(0,0,0,0.15)')))
fig.add_trace(go.Scatter(x=[l[1] for l in grey_labels], y=[float(merc(l[2])) for l in grey_labels],
                         text=[l[0] for l in grey_labels], mode='text', hoverinfo='skip',
                         textfont=dict(family='DejaVu Sans', size=20, color='#858585', shadow=HALO)))
fig.add_trace(go.Scatter(x=[l[1] for l in country_labels], y=[float(merc(l[2])) for l in country_labels],
                         text=[l[0] for l in country_labels], mode='text', hoverinfo='skip',
                         textfont=dict(family='DejaVu Sans', size=28, color='rgba(70,70,70,0.55)')))

shapes = [
    seg(0, 89, W, 89, '#e4e4e4', 1.5),
    seg(0, 1262, W, 1262, '#e2e2e2', 1.5),
    rect(0, 1263, W, 1461, '#ffffff'),
    rect(0, 1276, W, 1289, '#f5f5f5'),
    rect(0, 1289, W, 1461, '#fafafa'),
    seg(0, 1275.5, W, 1275.5, '#b2b2b2', 2),
    seg(0, 1289, W, 1289, '#d6d6d6', 2),
    rect(3, 1229, 351, 1258, 'rgba(255,255,255,0.7)'),
    # map toolbar
    rect(17, 108, 73, 163, '#f5f5f5', '#b3b3b3', 2.5),
    rect(17, 183, 73, 401, '#f5f5f5', '#b3b3b3', 2.5),
    rect(24, 289, 66, 331, '#e4e4e4', '#b3b3b3', 2),
    dict(type='circle', xref='paper', yref='paper', x0=fx(38), y0=fy(125), x1=fx(57), y1=fy(144),
         line=dict(color='#555555', width=2), layer='above'),
    seg(40, 141, 33, 147, '#555555', 2.5),
    seg(34, 210, 55, 210, '#5c5c5c', 4.5),
    seg(45, 200, 45, 220, '#5c5c5c', 4.5),
    seg(34, 260, 55, 260, '#5c5c5c', 4.5),
    poly([(39, 294), (52, 305), (47, 310), (47, 318), (29, 312), (35, 308), (39, 303)], 'rgba(0,0,0,0)', '#333333', 1.8),
    seg(34, 316, 30, 324, '#333333', 1.8),
    seg(50, 318, 61, 329, '#333333', 4),
    seg(61, 318, 50, 329, '#333333', 4),
    seg(24, 342, 64, 342, '#e0e0e0', 2),
    poly([(39, 364), (52, 373), (39, 383)], '#666666'),
    # tooltip
    rect(1545, 1032, 2053, 1134, '#c8c8c8'),
    rect(1540, 1026, 2049, 1129, '#ffffff', '#cccccc', 2.5),
]

annotations = []


def add_text(x, y, text, size, color='#333333', anchor='left', weight=None, family=FONT):
    annotations.append(dict(xref='paper', yref='paper', x=fx(x), y=fy(y), text=text, showarrow=False, xanchor=anchor,
                            yanchor='middle', align=anchor, borderpad=0,
                            font=dict(family=family, size=size, color=color, weight=weight)))


semi = '<span style="font-weight:600">'
add_text(1104, 46, f'Number of {semi}Zoos per State</span> with {semi}AZA-accredited Zoos</span>', 48, anchor='center',
         weight=300)
add_text(8, 1245, '© 2024 Mapbox © OpenStreetMap', 22, '#555555', family='Liberation Sans')
add_text(0, 1318, 'Caption', 23.5, '#333333')
add_text(0, 1383, '<b>Data Source:</b> AZA Total Zoos, 2024,', 31, '#666666')
add_text(529, 1383, '<u>https://www.aza.org/inst-status?</u>', 33, '#4496b8')
add_text(0, 1429, '<u>gad_source=1&gclid=Cj0KCQjw3vO3BhCqARIsAEWblcAj72Hf4W6KmBaGMTvy-epgDi7Z05eVJS9nMtTAcWUyFQHtaLfzPEwaAr1AEALw_wcB</u>',
         33, '#4496b8')
add_text(1554, 1057, 'State Name:', 26, '#858585')
add_text(1554, 1094, 'Number of AZA Zoos in Florida:', 26, '#858585')
add_text(1937, 1057, 'Florida', 26, '#333333')
add_text(1937, 1094, '24', 26, '#333333')

fig.update_layout(
    width=W, height=H, margin=dict(l=0, r=0, t=0, b=0), showlegend=False,
    paper_bgcolor='white', plot_bgcolor='white', dragmode=False,
    xaxis=dict(range=[-133.50, -61.24], domain=[0, 1], visible=False, fixedrange=True),
    yaxis=dict(range=[0.3794, 1.0772], domain=[fy(1262), fy(89)], visible=False, fixedrange=True),
    shapes=shapes, annotations=annotations,
)

fig.write_html('out.html', config=dict(displayModeBar=False),
               post_script="document.body.style.margin='0';document.body.style.overflow='hidden';")
